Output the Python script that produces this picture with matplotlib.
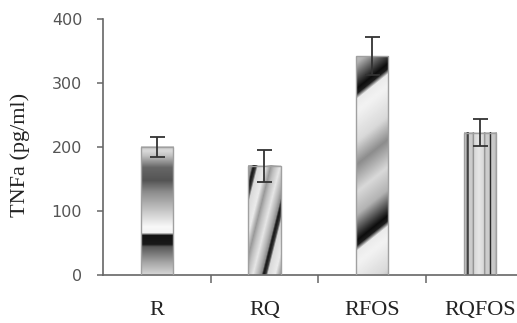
import numpy as np
import matplotlib.pyplot as plt

groups = ['R', 'RQ', 'RFOS', 'RQFOS']
tnfa = [200, 171, 342, 222]
sem = [16, 25, 30, 21]
yticks = [0, 100, 200, 300, 400]


# grey shading inside each bar, px/py are pixels from the bar's lower-left corner
def shade_r(px, py, w, h):
    f = py / h
    return np.interp(f, [0, 0.1, 0.22, 0.24, 0.31, 0.33, 0.38, 0.65, 0.74, 0.84, 0.93, 0.97, 1],
                     [0.85, 0.65, 0.35, 0.1, 0.08, 0.95, 0.97, 0.55, 0.33, 0.4, 0.75, 0.85, 0.8])


def shade_rq(px, py, w, h):
    t = ((px - 0.25 * py - 16) / 37) % 1
    return np.interp(t, [0, 0.05, 0.1, 0.3, 0.45, 0.55, 0.7, 0.85, 0.93, 0.97, 1],
                     [0.1, 0.25, 0.85, 0.92, 0.6, 0.75, 0.9, 0.7, 0.55, 0.15, 0.1])


def shade_rfos(px, py, w, h):
    t = ((py - 0.8 * px - 34) / 152) % 1
    return np.interp(t, [0, 0.04, 0.17, 0.32, 0.5, 0.65, 0.85, 0.93, 0.965, 1],
                     [0.05, 0.2, 0.7, 0.85, 0.55, 0.85, 0.95, 0.92, 0.12, 0.05])


def shade_rqfos(px, py, w, h):
    f = px / w
    return np.interp(f, [0, 0.06, 0.1, 0.13, 0.16, 0.25, 0.29, 0.33, 0.47, 0.6, 0.64, 0.68, 0.78, 0.82, 0.86, 0.94, 1],
                     [0.7, 0.78, 0.3, 0.15, 0.8, 0.8, 0.55, 0.85, 0.9, 0.85, 0.55, 0.8, 0.8, 0.15, 0.8, 0.78, 0.7])


shades = [shade_r, shade_rq, shade_rfos, shade_rqfos]

fig = plt.figure(figsize=(5.17, 3.23), dpi=100)
ax = fig.add_axes([0.1992, 0.1486, 0.833, 0.7926])
x = np.arange(len(groups))
bars = ax.bar(x, tnfa, width=0.3, color='none', edgecolor='#a0a0a0', linewidth=1.0, zorder=3)
ax.set_xlim(-0.5, 3.5)
ax.set_ylim(0, 400)

for bar, shade in zip(bars, shades):
    x0, y0 = ax.transData.transform((bar.get_x(), 0))
    x1, y1 = ax.transData.transform((bar.get_x() + bar.get_width(), bar.get_height()))
    w, h = x1 - x0, y1 - y0
    px, py = np.meshgrid(np.arange(int(w) + 1) + 0.5, np.arange(int(h) + 1) + 0.5)
    img = shade(px, py, w, h)
    ax.imshow(img, cmap='gray', vmin=0, vmax=1, origin='lower', aspect='auto',
              interpolation='bilinear', zorder=2,
              extent=(bar.get_x(), bar.get_x() + bar.get_width(), 0, bar.get_height()))

ax.errorbar(x, tnfa, yerr=sem, fmt='none', ecolor='#333333', elinewidth=1.3,
            capsize=5.4, capthick=1.3, zorder=4)

ax.set_xlim(-0.5, 3.5)
ax.set_ylim(0, 400)

for side in ['top', 'right']:
    ax.spines[side].set_visible(False)
for side in ['left', 'bottom']:
    ax.spines[side].set_color('#666666')
    ax.spines[side].set_linewidth(1.2)

ax.set_yticks(yticks)
ax.tick_params(axis='y', length=4, width=1.1, color='#666666', pad=11,
               labelsize=11.5, labelcolor='#555555')
ax.set_xticks(x, groups, fontfamily='Liberation Serif', fontsize=16, color='#222222')
ax.tick_params(axis='x', which='major', length=0, pad=19)
ax.set_xticks([0.5, 1.5, 2.5], minor=True)
ax.tick_params(axis='x', which='minor', length=6, width=1.1, color='#666666', direction='out')

ax.set_ylabel('TNFa (pg/ml)', fontfamily='Liberation Serif', fontsize=16, color='#222222')
ax.yaxis.set_label_coords(-0.17, 0.47)

fig.savefig('out.png', dpi=100)
